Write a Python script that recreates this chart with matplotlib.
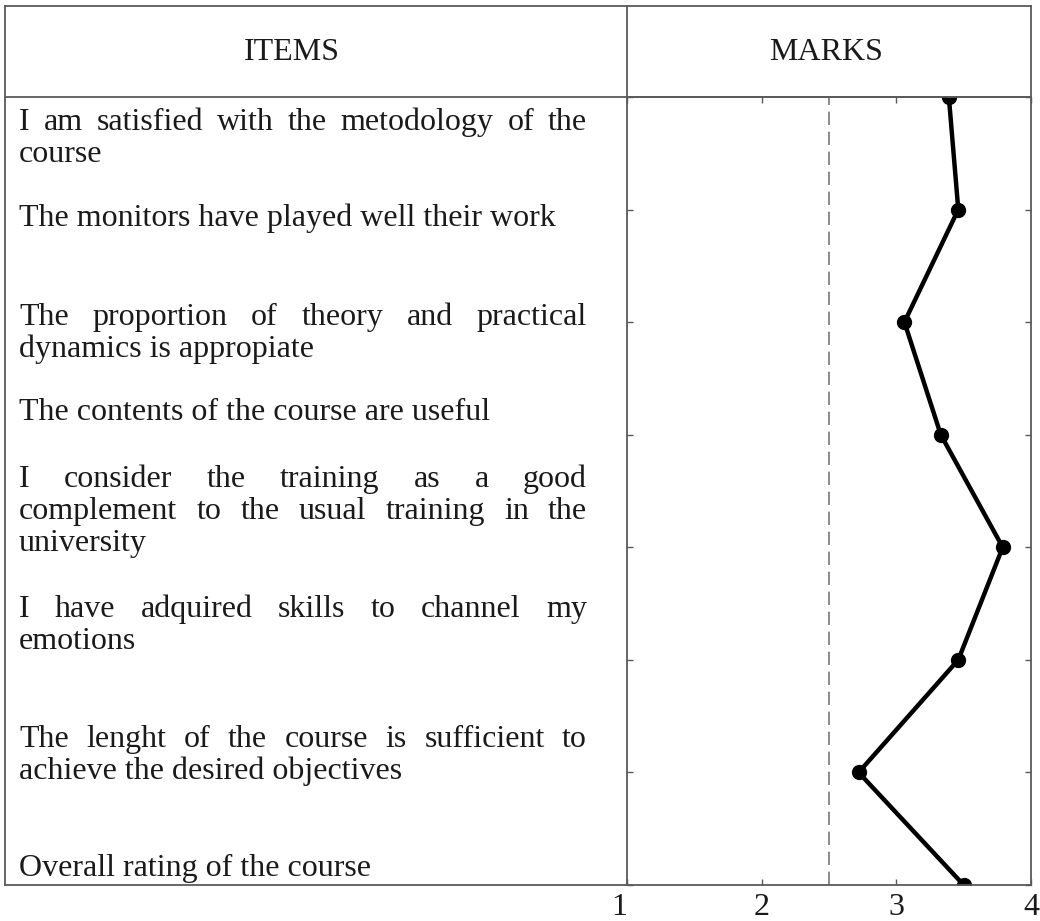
import matplotlib
matplotlib.use("Agg")
import matplotlib.pyplot as plt
from matplotlib.lines import Line2D

# ---- data ----
items = [
    ["I am satisfied with the metodology of the", "course"],
    ["The monitors have played well their work"],
    ["The proportion of theory and practical", "dynamics is appropiate"],
    ["The contents of the course are useful"],
    ["I consider the training as a good", "complement to the usual training in the", "university"],
    ["I have adquired skills to channel my", "emotions"],
    ["The lenght of the course is sufficient to", "achieve the desired objectives"],
    ["Overall rating of the course"],
]
marks = [3.39, 3.46, 3.06, 3.33, 3.79, 3.46, 2.72, 3.50]
x_ticks = [1, 2, 3, 4]
threshold = 2.5
headers = ["ITEMS", "MARKS"]

# ---- layout (figure pixels, origin top-left) ----
W, H = 1040, 921
tab_left, tab_top, head_bottom, tab_bottom = 5, 6, 97, 885
col_split, tab_right = 627, 1031
text_left, text_right = 19, 587
text_first_y = [120, 216, 315, 410, 477, 607, 737, 866]
line_step = 32
grey = "#5a5a5a"
font = dict(family="Liberation Serif", fontsize=23, color="#1a1a1a")

fig = plt.figure(figsize=(W / 100, H / 100), dpi=100)
bg = fig.add_axes([0, 0, 1, 1])
bg.set_xlim(0, W)
bg.set_ylim(H, 0)
bg.axis("off")

# table frame
lw = 1.3
for xs, ys in [
    ((tab_left, tab_right), (tab_top, tab_top)),
    ((tab_left, tab_right), (head_bottom, head_bottom)),
    ((tab_left, col_split), (tab_bottom, tab_bottom)),
    ((tab_left, tab_left), (tab_top, tab_bottom)),
    ((col_split, col_split), (tab_top, head_bottom)),
    ((tab_right, tab_right), (tab_top, head_bottom)),
]:
    bg.add_line(Line2D(xs, ys, color=grey, lw=lw))

bg.text(292, 52, headers[0], ha="center", va="center", **font)
bg.text(826, 52, headers[1], ha="center", va="center", **font)

renderer = fig.canvas.get_renderer()


def put_line(s, y, justify):
    if not justify:
        bg.text(text_left, y, s, ha="left", va="baseline", **font)
        return
    words = s.split()
    widths = []
    for w in words:
        t = bg.text(0, 0, w, **font)
        widths.append(t.get_window_extent(renderer).width)
        t.remove()
    gap = (text_right - text_left - sum(widths)) / (len(words) - 1)
    x = text_left
    for w, wd in zip(words, widths):
        bg.text(x, y, w, ha="left", va="baseline", **font)
        x += wd + gap


for lines, y0 in zip(items, text_first_y):
    for j, s in enumerate(lines):
        put_line(s, y0 + j * line_step + 10, j < len(lines) - 1)

# marks plot
ax = fig.add_axes([col_split / W, (H - tab_bottom) / H,
                   (tab_right - col_split) / W, (tab_bottom - head_bottom) / H])
ax.set_facecolor("none")
pos = list(range(len(marks)))
ax.plot(marks, pos, color="black", lw=3.2, marker="o", markersize=10)
ax.axvline(threshold, color="#777777", lw=1.2, ls=(0, (8, 4)))
ax.set_xlim(x_ticks[0], x_ticks[-1])
ax.set_ylim(len(marks) - 1, 0)
ax.set_xticks(x_ticks)
ax.set_xticklabels([str(v) for v in x_ticks], family="Liberation Serif", fontsize=23, color="#1a1a1a")
ax.get_xticklabels()[0].set_ha("right")
ax.set_yticks(pos)
ax.set_yticklabels([])
ax.tick_params(axis="both", direction="in", length=4, width=1, color=grey)
ax.tick_params(axis="x", top=True, pad=6)
ax.tick_params(axis="y", right=True)
for sp in ax.spines.values():
    sp.set_color(grey)
    sp.set_linewidth(lw)

fig.savefig("out.png", dpi=100)
